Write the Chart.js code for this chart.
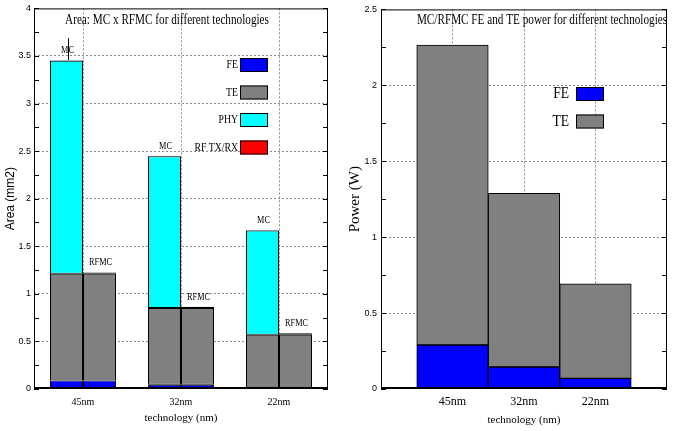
<!DOCTYPE html>
<html>
<head>
<meta charset="utf-8">
<script src="https://cdn.jsdelivr.net/npm/chart.js@4.4.0/dist/chart.umd.min.js"></script>
<style>
  body { margin: 0; background: #fff; }
  #wrap { position: relative; width: 673px; height: 431px; }
  #areaChart { position: absolute; left: 0; top: 0; }
  #powerChart { position: absolute; left: 340px; top: 0; }
</style>
</head>
<body>
<div id="wrap">
  <canvas id="areaChart" width="340" height="431"></canvas>
  <canvas id="powerChart" width="333" height="431"></canvas>
</div>
<script>
const technologies = ['45nm', '32nm', '22nm'];

// area (mm2) of each block, MC and RFMC stacks
const mcFE = [0.09, 0.045, 0.015];
const mcTE = [1.12, 0.805, 0.555];
const mcPHY = [2.24, 1.595, 1.095];
const mcRF = [0.006, 0.006, 0.006];
const rfmcFE = [0.09, 0.045, 0.015];
const rfmcTE = [1.12, 0.805, 0.555];
const rfmcRF = [0.015, 0.015, 0.015];

// power (W)
const powerFE = [0.29, 0.145, 0.07];
const powerTE = [1.975, 1.143, 0.623];

const areaMax = 4;
const powerMax = 2.5;
const majorStep = 0.5;
const minorStep = 0.25;

const BLUE = '#0000ff';
const GREY = '#808080';
const CYAN = '#00ffff';
const RED = '#ff0000';
const GRID = '#8c8c8c';
const SERIF = '"Liberation Serif", "Times New Roman", serif';
const SANS = '"Liberation Sans", Arial, sans-serif';

function squeezeText(ctx, text, x, y, size, family, sx, align) {
    ctx.save();
    ctx.translate(x, y);
    ctx.scale(sx, 1);
    ctx.font = size + 'px ' + family;
    ctx.textAlign = align || 'center';
    ctx.textBaseline = 'middle';
    ctx.fillStyle = '#000';
    ctx.fillText(text, 0, 0);
    ctx.restore();
}

// box round the plot + small inward tics on both sides
const framePlugin = {
    id: 'frame',
    afterDatasetsDraw(chart, args, opts) {
        const { ctx, chartArea: a } = chart;
        const y = chart.scales.y;
        ctx.save();
        ctx.strokeStyle = '#000';
        ctx.lineWidth = 1;
        ctx.strokeRect(a.left + 0.5, a.top + 0.5, a.right - a.left - 1, a.bottom - a.top - 1);
        ctx.beginPath();
        ctx.moveTo(a.left, a.bottom - 1.5);
        ctx.lineTo(a.right, a.bottom - 1.5);
        ctx.stroke();
        for (let v = y.min; v <= y.max + 1e-9; v += opts.minor) {
            const py = Math.round(y.getPixelForValue(v)) + 0.5;
            ctx.beginPath();
            ctx.moveTo(a.left, py); ctx.lineTo(a.left + 5, py);
            ctx.moveTo(a.right, py); ctx.lineTo(a.right - 5, py);
            ctx.stroke();
        }
        ctx.restore();
    }
};

// title and legend drawn inside the plot, gnuplot style
const insetPlugin = {
    id: 'inset',
    afterDatasetsDraw(chart, args, opts) {
        const ctx = chart.ctx;
        squeezeText(ctx, opts.title, opts.titleX, opts.titleY, 14, SERIF, 0.8);

        const seen = [];
        chart.data.datasets.forEach(ds => {
            if (seen.find(s => s.label === ds.label)) return;
            seen.push(ds);
        });
        seen.forEach((ds, i) => {
            const cy = opts.legendY + i * opts.legendGap;
            ctx.save();
            ctx.fillStyle = ds.backgroundColor;
            ctx.fillRect(opts.boxX, cy - 7, 28, 14);
            ctx.strokeStyle = '#000';
            ctx.lineWidth = 1;
            ctx.strokeRect(opts.boxX + 0.5, cy - 6.5, 27, 13);
            ctx.restore();
            squeezeText(ctx, ds.label, opts.boxX - opts.labelGap, cy, opts.labelSize, SERIF, opts.labelSx, 'right');
        });
    }
};

// "MC" / "RFMC" above each stack
const stackLabelPlugin = {
    id: 'stackLabels',
    afterDatasetsDraw(chart) {
        const ctx = chart.ctx;
        const lastOfStack = {};
        chart.data.datasets.forEach((ds, di) => { lastOfStack[ds.stack] = di; });
        Object.keys(lastOfStack).forEach(stack => {
            const meta = chart.getDatasetMeta(lastOfStack[stack]);
            meta.data.forEach((bar, i) => {
                squeezeText(ctx, stack, bar.x + 1, bar.y - 10, 11, SERIF, 0.75);
                if (stack === 'MC' && i === 0) {
                    ctx.save();
                    ctx.strokeStyle = '#000';
                    ctx.lineWidth = 1;
                    ctx.beginPath();
                    ctx.moveTo(Math.round(bar.x) + 1.5, bar.y);
                    ctx.lineTo(Math.round(bar.x) + 1.5, bar.y - 22);
                    ctx.stroke();
                    ctx.restore();
                }
            });
        });
    }
};

const inner = max => c => (c.tick.value > 0 && c.tick.value < max) ? GRID : 'rgba(0,0,0,0)';
const plainNumber = v => String(v);

new Chart(document.getElementById('areaChart'), {
    type: 'bar',
    data: {
        labels: technologies,
        datasets: [
            { label: 'FE', data: mcFE, stack: 'MC', backgroundColor: BLUE },
            { label: 'TE', data: mcTE, stack: 'MC', backgroundColor: GREY },
            { label: 'PHY', data: mcPHY, stack: 'MC', backgroundColor: CYAN },
            { label: 'RF TX/RX', data: mcRF, stack: 'MC', backgroundColor: RED },
            { label: 'FE', data: rfmcFE, stack: 'RFMC', backgroundColor: BLUE },
            { label: 'TE', data: rfmcTE, stack: 'RFMC', backgroundColor: GREY },
            { label: 'RF TX/RX', data: rfmcRF, stack: 'RFMC', backgroundColor: RED },
        ]
    },
    options: {
        responsive: false,
        animation: false,
        layout: { padding: { top: 4, right: 12, left: 0, bottom: 0 } },
        datasets: {
            bar: {
                borderColor: '#000', borderWidth: 1, borderSkipped: false, inflateAmount: 0,
                categoryPercentage: 66 / 98, barPercentage: 1
            }
        },
        plugins: {
            legend: { display: false },
            tooltip: { enabled: false },
            frame: { minor: minorStep },
            inset: {
                title: 'Area: MC x RFMC for different technologies', titleX: 167, titleY: 20,
                boxX: 240, legendY: 65, legendGap: 27.5, labelGap: 2, labelSize: 13, labelSx: 0.75
            }
        },
        scales: {
            x: {
                stacked: true,
                grid: { offset: false, color: GRID, drawTicks: false },
                border: { display: false, dash: [2, 2] },
                ticks: { color: '#000', font: { family: SERIF, size: 10 }, padding: 7 },
                title: { display: true, text: 'technology (nm)', color: '#000', font: { family: SERIF, size: 11 }, padding: { top: 0, bottom: 6 } },
                afterFit: s => { s.height = 42; }
            },
            y: {
                stacked: true,
                min: 0,
                max: areaMax,
                grid: { color: inner(areaMax), drawTicks: false },
                border: { display: false, dash: [2, 2] },
                ticks: { stepSize: majorStep, color: '#000', font: { family: SANS, size: 9 }, padding: 3, callback: plainNumber },
                title: { display: true, text: 'Area (mm2)', color: '#000', font: { family: SANS, size: 12 }, padding: { top: 3, bottom: 0 } },
                afterFit: s => { s.width = 34; }
            }
        }
    },
    plugins: [framePlugin, insetPlugin, stackLabelPlugin]
});

new Chart(document.getElementById('powerChart'), {
    type: 'bar',
    data: {
        datasets: [
            { label: 'FE', data: powerFE.map((v, i) => ({ x: i + 1, y: v })), backgroundColor: BLUE },
            { label: 'TE', data: powerTE.map((v, i) => ({ x: i + 1, y: v })), backgroundColor: GREY },
        ]
    },
    options: {
        responsive: false,
        animation: false,
        layout: { padding: { top: 4, right: 1, left: 0, bottom: 0 } },
        datasets: {
            bar: { borderColor: '#000', borderWidth: 1, borderSkipped: false, categoryPercentage: 1, barPercentage: 1 }
        },
        plugins: {
            legend: { display: false },
            tooltip: { enabled: false },
            frame: { minor: minorStep },
            inset: {
                title: 'MC/RFMC FE and TE power for different technologies', titleX: 202, titleY: 20,
                boxX: 236, legendY: 94, legendGap: 27.5, labelGap: 7, labelSize: 16, labelSx: 0.85
            }
        },
        scales: {
            x: {
                type: 'linear',
                stacked: true,
                min: 0,
                max: technologies.length + 1,
                offset: false,
                grid: { offset: false, color: inner(technologies.length + 1), drawTicks: false },
                border: { display: false, dash: [2, 2] },
                ticks: {
                    stepSize: 1, color: '#000', font: { family: SERIF, size: 12 }, padding: 6,
                    callback: v => technologies[v - 1] || ''
                },
                title: { display: true, text: 'technology (nm)', color: '#000', font: { family: SERIF, size: 11 }, padding: { top: 0, bottom: 4 } },
                afterFit: s => { s.height = 42; }
            },
            y: {
                stacked: true,
                min: 0,
                max: powerMax,
                grid: { color: inner(powerMax), drawTicks: false },
                border: { display: false, dash: [2, 2] },
                ticks: { stepSize: majorStep, color: '#000', font: { family: SANS, size: 9 }, padding: 4, callback: plainNumber },
                title: { display: true, text: 'Power (W)', color: '#000', font: { family: SERIF, size: 15 }, padding: { top: 6, bottom: 0 } },
                afterFit: s => { s.width = 41; }
            }
        }
    },
    plugins: [framePlugin, insetPlugin]
});
</script>
</body>
</html>
